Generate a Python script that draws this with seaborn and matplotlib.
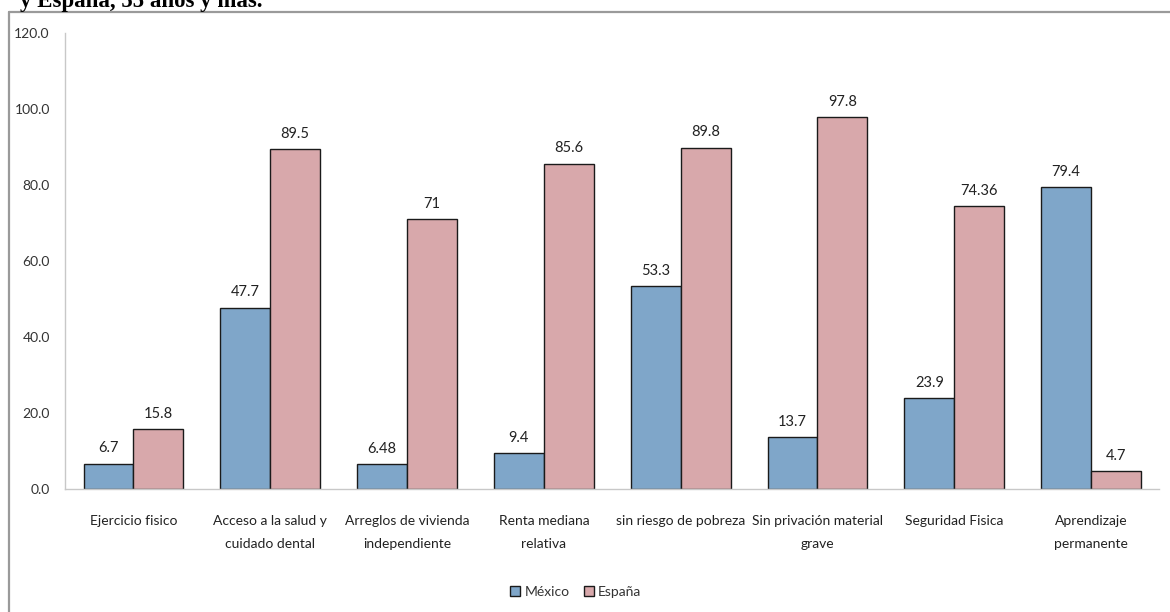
import matplotlib
matplotlib.use("Agg")
import matplotlib.pyplot as plt
import seaborn as sns
import pandas as pd
from matplotlib.lines import Line2D

# Indicators (x-axis categories)
categories = [
    "Ejercicio fisico",
    "Acceso a la salud y\ncuidado dental",
    "Arreglos de vivienda\nindependiente",
    "Renta mediana\nrelativa",
    "sin riesgo de pobreza",
    "Sin privación material\ngrave",
    "Seguridad Fisica",
    "Aprendizaje\npermanente",
]
series = ["México", "España"]
mexico = [6.7, 47.7, 6.48, 9.4, 53.3, 13.7, 23.9, 79.4]
espana = [15.8, 89.5, 71, 85.6, 89.8, 97.8, 74.36, 4.7]
mexico_labels = ["6.7", "47.7", "6.48", "9.4", "53.3", "13.7", "23.9", "79.4"]
espana_labels = ["15.8", "89.5", "71", "85.6", "89.8", "97.8", "74.36", "4.7"]
y_ticks = [0, 20, 40, 60, 80, 100, 120]

df = pd.DataFrame({
    "indicador": categories * 2,
    "pais": [series[0]] * len(categories) + [series[1]] * len(categories),
    "valor": mexico + espana,
})

sns.set_theme(style="white")
plt.rcParams["font.family"] = ["Lato", "DejaVu Sans"]

fig = plt.figure(figsize=(11.7, 6.12), dpi=100)
ax = fig.add_axes([0.0556, 0.201, 0.9354, 0.745])

palette = {"México": "#7fa6c9", "España": "#d8a8ab"}
sns.barplot(
    data=df, x="indicador", y="valor", hue="pais", order=categories,
    hue_order=series, palette=palette, width=0.73, saturation=1,
    edgecolor="#1a1a1a", linewidth=1.0, ax=ax, legend=True,
)

# Value labels above each bar
for container, labels in zip(ax.containers, [mexico_labels, espana_labels]):
    ax.bar_label(container, labels=labels, padding=6, fontsize=10.5,
                 color="#222222")

ax.set_ylim(0, 120)
ax.set_xlim(-0.5, len(categories) - 0.5)
ax.set_yticks(y_ticks)
ax.set_yticklabels([f"{v:.1f}" for v in y_ticks])
ax.set_xlabel("")
ax.set_ylabel("")
ax.tick_params(axis="y", labelsize=10, colors="#333333", length=0, pad=11)
ax.tick_params(axis="x", labelsize=10, colors="#222222", length=0, pad=19)
for lab in ax.get_xticklabels():
    lab.set_linespacing(2.1)

for side in ["top", "right"]:
    ax.spines[side].set_visible(False)
for side in ["left", "bottom"]:
    ax.spines[side].set_color("#c8c8c8")
    ax.spines[side].set_linewidth(1.0)

leg = ax.get_legend()
handles, labels = ax.get_legend_handles_labels()
leg.remove()
fig.legend(handles, labels, loc="center", bbox_to_anchor=(0.492, 0.033),
           ncol=2, frameon=False, fontsize=10, handlelength=0.75,
           handleheight=0.75, handletextpad=0.3, columnspacing=1.0,
           labelcolor="#333333")

# Chart frame (top and left edges)
frame_top = 1 - 11.5 / 612
frame_left = 9 / 1170
fig.add_artist(Line2D([frame_left, 1.0], [frame_top, frame_top],
                      transform=fig.transFigure, color="#9a9a9a", linewidth=1.6))
fig.add_artist(Line2D([frame_left, frame_left], [0.0, frame_top],
                      transform=fig.transFigure, color="#9a9a9a", linewidth=1.6))

# Report title line above the chart
fig.text(0.017, 1 - 7 / 612, "y España, 55 años y más.", fontsize=16.5,
         fontweight="bold", family=["Liberation Serif", "DejaVu Serif"],
         color="black", ha="left", va="baseline")

fig.savefig("out.png", dpi=100)
